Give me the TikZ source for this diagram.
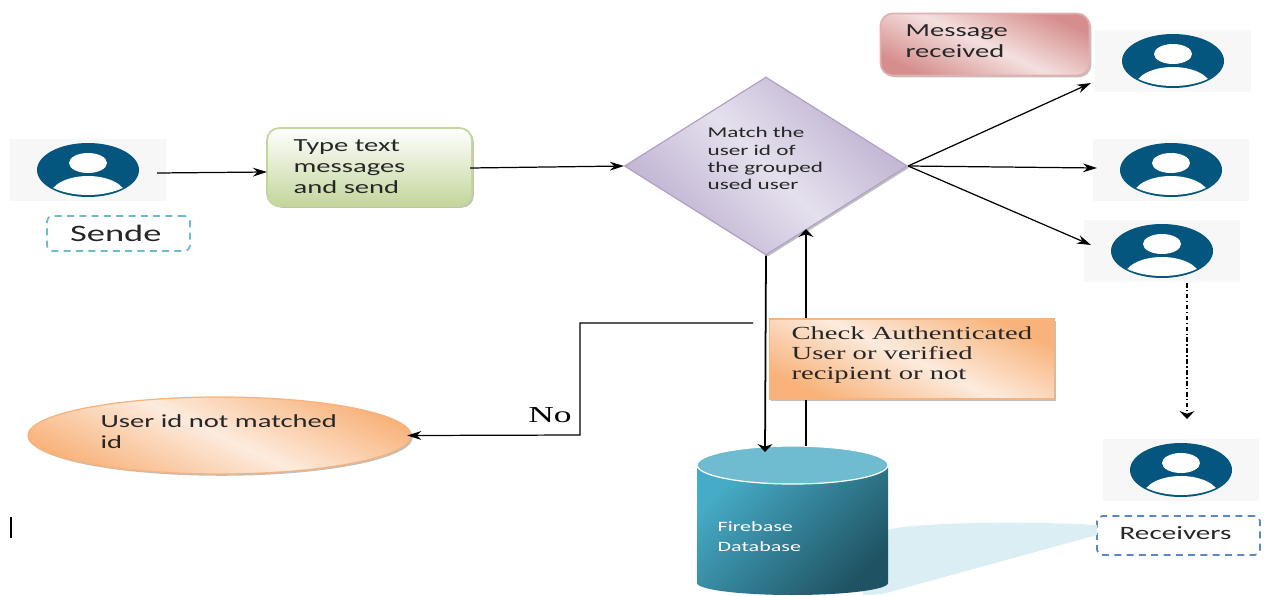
\documentclass[tikz,border=0pt]{standalone}
\usepackage{fontspec}
\setmainfont[FakeStretch=1.55]{Carlito}
\newfontfamily\serifface[FakeStretch=1.55]{Liberation Serif}
\usetikzlibrary{arrows.meta,shapes.geometric,shadows}

\definecolor{panelgrey}{HTML}{F7F7F7}
\definecolor{iconblue}{HTML}{05567F}
\definecolor{orangedark}{HTML}{F8B27A}
\definecolor{orangelight}{HTML}{FDEBDD}
\definecolor{reddark}{HTML}{D58E8C}
\definecolor{redlight}{HTML}{F4E0DF}
\definecolor{lilacdark}{HTML}{BCAFD0}
\definecolor{lilaclight}{HTML}{E5E0ED}
\definecolor{lilacedge}{HTML}{B3A2C7}
\definecolor{greendark}{HTML}{C3D69B}
\definecolor{dbstart}{HTML}{46ABC6}
\definecolor{dbend}{HTML}{1F5363}
\definecolor{dbtop}{HTML}{6FBCD1}
\definecolor{tailblue}{HTML}{DBEEF4}
\definecolor{dashblue}{HTML}{5B87C5}

\tikzset{
  usericon/.pic={
    \node[draw=none,fill=panelgrey,minimum width=156*0.02cm,minimum height=62*0.02cm,inner sep=0pt] (panel) at (0,0) {};
    \fill[iconblue] (0,0) ellipse [x radius=51,y radius=27];
    \fill[white] (0,-7) ellipse [x radius=19,y radius=10];
    \begin{scope}
      \clip (0,0) ellipse [x radius=50,y radius=25];
      \fill[white] (0,26) ellipse [x radius=38,y radius=20];
    \end{scope}
  },
  boxtext/.style={draw=none,align=left,anchor=north west,inner sep=0pt,text=black!85,font=\fontsize{10.5}{12}\selectfont},
  soft/.style={drop shadow={shadow xshift=1pt,shadow yshift=-1pt,fill=black,opacity=.25}},
  tallhead/.style={>={Stealth[length=4.5pt,width=8.5pt]}},
  dashbox/.style={rectangle,rounded corners=3pt,dash pattern=on 4pt off 3pt,line width=1pt,inner sep=0pt,text=black!85},
}

\begin{document}
\begin{tikzpicture}[->,>={Stealth[length=8pt,width=5pt]},x=0.02cm,y=-0.02cm,line width=.7pt]
  \useasboundingbox (0,0) rectangle (1266,595);

  \pic (sender) at (88,170) {usericon};
  \pic (first) at (1173,61) {usericon};
  \pic (second) at (1171,170) {usericon};
  \pic (third) at (1162,251) {usericon};
  \pic (last) at (1181,470) {usericon};

  \coordinate (senderout) at (157,173);
  \coordinate (typein) at (267,172);
  \coordinate (typeout) at (470,168);
  \coordinate (firstin) at (1091,83);
  \coordinate (secondin) at (1097,168);
  \coordinate (thirdin) at (1091,245);
  \coordinate (thirdout) at (1187,283);
  \coordinate (lastin) at (1187,419);
  \coordinate (bendstart) at (753,323);
  \coordinate (dbdown) at (765,452);
  \coordinate (dbup) at (806,446);
  \coordinate (matchup) at (806,229);

  \node[rectangle,rounded corners=7pt,inner sep=0pt,draw=greendark,line width=1pt,top color=white,bottom color=greendark,soft,
    minimum width=205*0.02cm,minimum height=78*0.02cm] (typebox) at (369.5,167) {};
  \node[boxtext] (typetext) at (293,139) {Type text\\messages\\and send};

  \node[diamond,draw=lilacedge,inner sep=0pt,left color=lilacdark,right color=lilacdark,middle color=lilaclight,
    shading angle=135,soft,minimum width=283*0.02cm,minimum height=178*0.02cm,aspect=1.59] (match) at (766,166) {};
  \node[boxtext,font=\fontsize{8.5}{9.7}\selectfont] (matchtext) at (707,127) {Match the\\user id of\\the grouped\\used user};

  \node[rectangle,rounded corners=7pt,inner sep=0pt,draw=reddark!70,line width=1pt,left color=reddark,right color=reddark,middle color=redlight,
    shading angle=155,soft,minimum width=209*0.02cm,minimum height=62*0.02cm] (receivedbox) at (985,44.5) {};
  \node[boxtext] (receivedtext) at (905,24) {Message\\received};

  \node[dashbox,draw=dbstart!80,font=\fontsize{13.4}{16}\selectfont,minimum width=143*0.02cm,minimum height=35*0.02cm] (sende) at (118.5,233.5) {Sende\hspace*{3pt}};
  \node[dashbox,draw=dashblue,font=\fontsize{10.7}{12}\selectfont,minimum width=163*0.02cm,minimum height=39*0.02cm] (receivers) at (1178.5,535.5) {\raisebox{2.5pt}{Receivers}\hspace*{3.4pt}};

  \node[ellipse,draw=orangedark,line width=.7pt,inner sep=0pt,left color=orangedark,right color=orangedark,middle color=orangelight,
    shading angle=155,soft,minimum width=383*0.02cm,minimum height=77*0.02cm] (notmatched) at (219.5,435.5) {};
  \node[boxtext] (notmatchedtext) at (100,414) {User id not matched\\id};

  \path[fill=tailblue] (867,538) -- (887,530) .. controls (915,522) and (1030,521) .. (1097,525)
    -- (1097,535) -- (897,590) .. controls (885,594) and (875,595) .. (863,595) -- cycle;
  \path[left color=dbstart,right color=dbend,shading angle=45]
    (697,465) -- (697,583) arc [start angle=180,end angle=0,x radius=95.5,y radius=12] -- (888,465) -- cycle;
  \path[fill=dbtop,draw=white] (792.5,465) ellipse [x radius=95.5,y radius=19];
  \node[boxtext,text=white,font=\fontsize{8.1}{11.4}\selectfont] (firebase) at (717,521) {Firebase\\Database};

  \draw (senderout) -- (typein);
  \draw (typeout) -- (match.west);
  \draw (match.east) -- (firstin);
  \draw (match.east) -- (secondin);
  \draw (match.east) -- (thirdin);
  \draw[tallhead,line width=1pt,dash pattern=on 2.6pt off 1.4pt on .8pt off 1.4pt] (thirdout) -- (lastin);
  \draw[shorten >=-2.5pt] (bendstart) -- (580,323) -- (580,435) -- (notmatched.east);
  \draw[tallhead,line width=1pt] (match.south) -- (dbdown);
  \draw[tallhead,line width=1pt] (dbup) -- (matchup);
  \draw[-] (11,517) -- (11,538);

  \node[draw=none,inner sep=0pt,font=\serifface\fontsize{13}{14}\selectfont] (nolabel) at (550,415) {No};

  \node[rectangle,draw=orangedark,line width=1pt,inner sep=0pt,left color=orangedark,right color=orangedark,middle color=orangelight,
    shading angle=155,soft,minimum width=285*0.02cm,minimum height=80*0.02cm] (checkbox) at (912,359) {};
  \node[boxtext,font=\serifface\fontsize{10.5}{11.5}\selectfont] (checktext) at (791,326) {Check Authenticated\\User or verified\\recipient or not};
\end{tikzpicture}
\end{document}
